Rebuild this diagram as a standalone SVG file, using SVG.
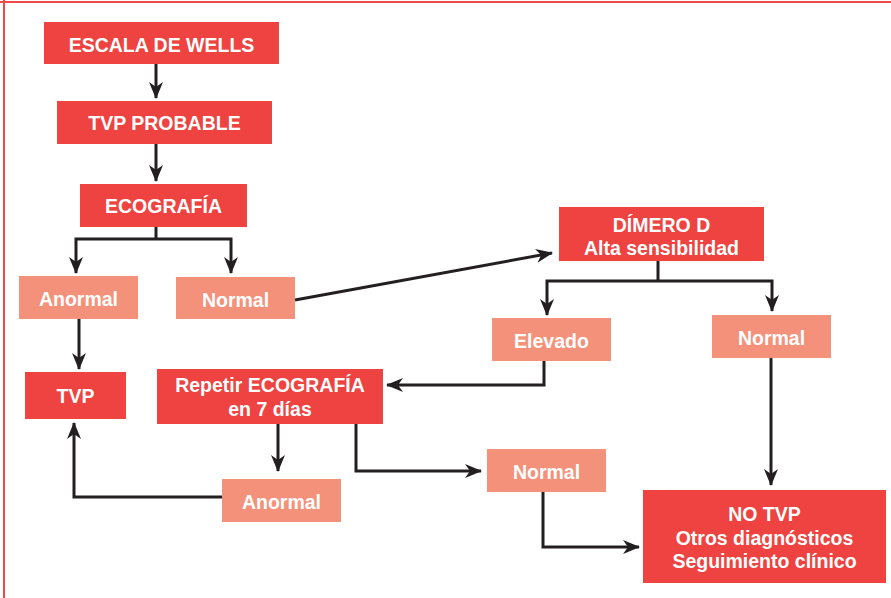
<svg xmlns="http://www.w3.org/2000/svg" width="891" height="598" viewBox="0 0 891 598">
  <style>
    .main { fill: #EE4340; }
    .sub { fill: #F4917A; }
    .lbl { font-family: "Liberation Sans", Arial, sans-serif; font-weight: 700; font-size: 19.5px; fill: #FFFFFF; text-anchor: middle; }
    .wire { fill: none; stroke: #231F20; stroke-width: 3; stroke-linejoin: miter; }
    .frame { stroke: #F0494A; stroke-width: 2; fill: none; }
  </style>
  <defs>
    <marker id="arrow" markerUnits="userSpaceOnUse" markerWidth="17" markerHeight="14" viewBox="0 0 17 14" refX="16" refY="7" orient="auto">
      <path d="M0,0 L17,7 L0,14 L5,7 z" fill="#231F20"/>
    </marker>
  </defs>

  <rect width="891" height="598" fill="#FFFFFF"/>
  <g id="frame">
    <line class="frame" x1="0" y1="2" x2="891" y2="2"/>
    <line class="frame" x1="4" y1="0" x2="4" y2="598"/>
  </g>

  <g id="connectors">
    <line class="wire" x1="156" y1="64" x2="156" y2="98" marker-end="url(#arrow)"/>
    <line class="wire" x1="156" y1="144" x2="156" y2="181" marker-end="url(#arrow)"/>
    <line class="wire" x1="156" y1="227" x2="156" y2="239"/>
    <polyline class="wire" points="156,239 76,239 76,273" marker-end="url(#arrow)"/>
    <polyline class="wire" points="156,239 231,239 231,273" marker-end="url(#arrow)"/>
    <line class="wire" x1="295" y1="300" x2="552" y2="253" marker-end="url(#arrow)"/>
    <line class="wire" x1="79" y1="319" x2="79" y2="369" marker-end="url(#arrow)"/>
    <line class="wire" x1="658" y1="261" x2="658" y2="281"/>
    <polyline class="wire" points="658,281 547,281 547,315" marker-end="url(#arrow)"/>
    <polyline class="wire" points="658,281 772,281 772,311" marker-end="url(#arrow)"/>
    <polyline class="wire" points="544,361 544,385 387,385" marker-end="url(#arrow)"/>
    <line class="wire" x1="278" y1="424" x2="278" y2="471" marker-end="url(#arrow)"/>
    <polyline class="wire" points="222,497 74,497 74,423" marker-end="url(#arrow)"/>
    <polyline class="wire" points="356,424 356,471 481,471" marker-end="url(#arrow)"/>
    <polyline class="wire" points="543,492 543,547 639,547" marker-end="url(#arrow)"/>
    <line class="wire" x1="771" y1="358" x2="771" y2="485" marker-end="url(#arrow)"/>
  </g>

  <g id="escala">
    <rect class="main" x="44" y="22" width="235" height="42"/>
    <text class="lbl" x="161.5" y="52">ESCALA DE WELLS</text>
  </g>
  <g id="tvp-probable">
    <rect class="main" x="57" y="101" width="215" height="43"/>
    <text class="lbl" x="164.5" y="130">TVP PROBABLE</text>
  </g>
  <g id="ecografia">
    <rect class="main" x="80" y="184" width="167" height="43"/>
    <text class="lbl" x="163.5" y="213">ECOGRAFÍA</text>
  </g>
  <g id="eco-anormal">
    <rect class="sub" x="19" y="276" width="119" height="43"/>
    <text class="lbl" x="78.5" y="306">Anormal</text>
  </g>
  <g id="eco-normal">
    <rect class="sub" x="176" y="277" width="119" height="42"/>
    <text class="lbl" x="235.5" y="307">Normal</text>
  </g>
  <g id="tvp">
    <rect class="main" x="25" y="372" width="101" height="47"/>
    <text class="lbl" x="75.5" y="403">TVP</text>
  </g>
  <g id="repetir">
    <rect class="main" x="157" y="369" width="226" height="55"/>
    <text class="lbl" x="270" y="392">Repetir ECOGRAFÍA</text>
    <text class="lbl" x="270" y="416">en 7 días</text>
  </g>
  <g id="repetir-anormal">
    <rect class="sub" x="222" y="479" width="119" height="43"/>
    <text class="lbl" x="281.5" y="509">Anormal</text>
  </g>
  <g id="repetir-normal">
    <rect class="sub" x="487" y="449" width="119" height="43"/>
    <text class="lbl" x="546.5" y="479">Normal</text>
  </g>
  <g id="dimero">
    <rect class="main" x="559" y="207" width="205" height="54"/>
    <text class="lbl" x="661.5" y="232">DÍMERO D</text>
    <text class="lbl" x="661.5" y="255">Alta sensibilidad</text>
  </g>
  <g id="elevado">
    <rect class="sub" x="492" y="318" width="119" height="43"/>
    <text class="lbl" x="551.5" y="348">Elevado</text>
  </g>
  <g id="dimero-normal">
    <rect class="sub" x="712" y="315" width="119" height="43"/>
    <text class="lbl" x="771.5" y="345">Normal</text>
  </g>
  <g id="no-tvp">
    <rect class="main" x="643" y="490" width="243" height="93"/>
    <text class="lbl" x="764.5" y="521">NO TVP</text>
    <text class="lbl" x="764.5" y="545">Otros diagnósticos</text>
    <text class="lbl" x="764.5" y="568">Seguimiento clínico</text>
  </g>
</svg>
